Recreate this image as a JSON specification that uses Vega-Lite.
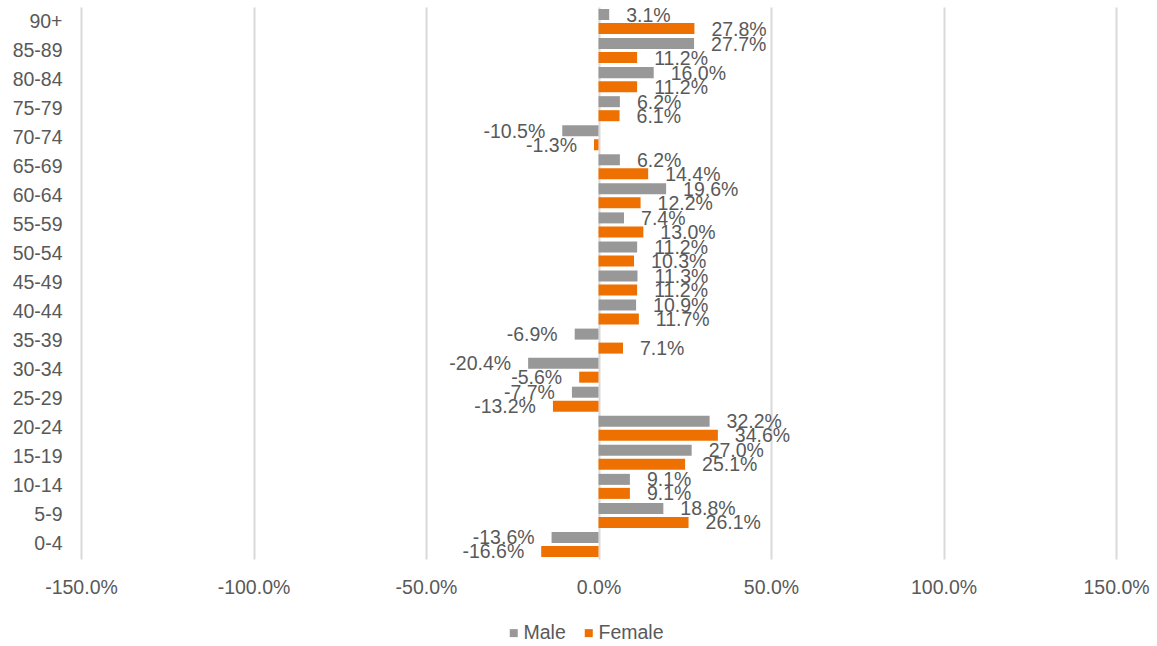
{
  "$schema": "https://vega.github.io/schema/vega-lite/v6.json",
  "width": 1035,
  "height": 552,
  "autosize": {"type": "none"},
  "padding": {"left": 81, "top": 7, "right": 41, "bottom": 87},
  "background": "white",
  "config": {
    "view": {"stroke": null},
    "font": "Liberation Sans",
    "locale": {
      "number": {"decimal": ".", "thousands": ",", "grouping": [3], "currency": ["$", ""], "minus": "-"}
    }
  },
  "data": {
    "values": [
      {"age": "90+", "sex": "Male", "value": 0.031},
      {"age": "90+", "sex": "Female", "value": 0.278},
      {"age": "85-89", "sex": "Male", "value": 0.277},
      {"age": "85-89", "sex": "Female", "value": 0.112},
      {"age": "80-84", "sex": "Male", "value": 0.160},
      {"age": "80-84", "sex": "Female", "value": 0.112},
      {"age": "75-79", "sex": "Male", "value": 0.062},
      {"age": "75-79", "sex": "Female", "value": 0.061},
      {"age": "70-74", "sex": "Male", "value": -0.105},
      {"age": "70-74", "sex": "Female", "value": -0.013},
      {"age": "65-69", "sex": "Male", "value": 0.062},
      {"age": "65-69", "sex": "Female", "value": 0.144},
      {"age": "60-64", "sex": "Male", "value": 0.196},
      {"age": "60-64", "sex": "Female", "value": 0.122},
      {"age": "55-59", "sex": "Male", "value": 0.074},
      {"age": "55-59", "sex": "Female", "value": 0.130},
      {"age": "50-54", "sex": "Male", "value": 0.112},
      {"age": "50-54", "sex": "Female", "value": 0.103},
      {"age": "45-49", "sex": "Male", "value": 0.113},
      {"age": "45-49", "sex": "Female", "value": 0.112},
      {"age": "40-44", "sex": "Male", "value": 0.109},
      {"age": "40-44", "sex": "Female", "value": 0.117},
      {"age": "35-39", "sex": "Male", "value": -0.069},
      {"age": "35-39", "sex": "Female", "value": 0.071},
      {"age": "30-34", "sex": "Male", "value": -0.204},
      {"age": "30-34", "sex": "Female", "value": -0.056},
      {"age": "25-29", "sex": "Male", "value": -0.077},
      {"age": "25-29", "sex": "Female", "value": -0.132},
      {"age": "20-24", "sex": "Male", "value": 0.322},
      {"age": "20-24", "sex": "Female", "value": 0.346},
      {"age": "15-19", "sex": "Male", "value": 0.270},
      {"age": "15-19", "sex": "Female", "value": 0.251},
      {"age": "10-14", "sex": "Male", "value": 0.091},
      {"age": "10-14", "sex": "Female", "value": 0.091},
      {"age": "5-9", "sex": "Male", "value": 0.188},
      {"age": "5-9", "sex": "Female", "value": 0.261},
      {"age": "0-4", "sex": "Male", "value": -0.136},
      {"age": "0-4", "sex": "Female", "value": -0.166}
    ]
  },
  "encoding": {
    "y": {
      "field": "age",
      "type": "nominal",
      "sort": ["90+", "85-89", "80-84", "75-79", "70-74", "65-69", "60-64", "55-59", "50-54", "45-49", "40-44", "35-39", "30-34", "25-29", "20-24", "15-19", "10-14", "5-9", "0-4"],
      "scale": {"paddingInner": 0, "paddingOuter": 0},
      "axis": {
        "title": null,
        "domain": false,
        "ticks": false,
        "tickSize": 0,
        "grid": false,
        "labelPadding": 19,
        "labelFontSize": 19.5,
        "labelColor": "#595959",
        "labelFont": "Liberation Sans"
      }
    },
    "yOffset": {
      "field": "sex",
      "type": "nominal",
      "sort": ["Male", "Female"],
      "scale": {"paddingInner": 0.214, "paddingOuter": 0.143}
    },
    "x": {
      "field": "value",
      "type": "quantitative",
      "scale": {"domain": [-1.5, 1.5], "nice": false, "zero": false},
      "axis": {
        "title": null,
        "format": ".1%",
        "values": [-1.5, -1, -0.5, 0, 0.5, 1, 1.5],
        "grid": true,
        "gridColor": "#D9D9D9",
        "gridWidth": 2,
        "domain": false,
        "ticks": false,
        "tickSize": 0,
        "labelPadding": 19,
        "labelFlush": false,
        "labelFontSize": 19.5,
        "labelColor": "#595959",
        "labelFont": "Liberation Sans"
      }
    }
  },
  "layer": [
    {
      "mark": {"type": "bar"},
      "encoding": {
        "color": {
          "field": "sex",
          "type": "nominal",
          "scale": {"domain": ["Male", "Female"], "range": ["#989898", "#EE7000"]},
          "legend": {
            "title": null,
            "orient": "none",
            "direction": "horizontal",
            "legendX": 423,
            "legendY": 616,
            "symbolType": "square",
            "symbolSize": 64,
            "symbolStrokeWidth": 0,
            "labelFontSize": 19.5,
            "labelColor": "#595959",
            "labelFont": "Liberation Sans",
            "labelOffset": 0,
            "columnPadding": 13,
            "padding": 0
          }
        }
      }
    },
    {
      "transform": [{"filter": "datum.value >= 0"}],
      "mark": {"type": "text", "align": "left", "baseline": "middle", "dx": 17, "dy": 1, "fontSize": 19.5, "fill": "#595959", "font": "Liberation Sans"},
      "encoding": {"text": {"field": "value", "type": "quantitative", "format": ".1%"}}
    },
    {
      "transform": [{"filter": "datum.value < 0"}],
      "mark": {"type": "text", "align": "right", "baseline": "middle", "dx": -17, "dy": 1, "fontSize": 19.5, "fill": "#595959", "font": "Liberation Sans"},
      "encoding": {"text": {"field": "value", "type": "quantitative", "format": ".1%"}}
    }
  ]
}
